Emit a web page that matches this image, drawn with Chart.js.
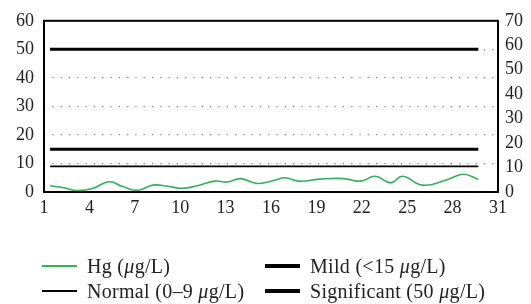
<!DOCTYPE html>
<html>
<head>
<meta charset="utf-8">
<script src="https://cdn.jsdelivr.net/npm/chart.js@4/dist/chart.umd.min.js"></script>
<style>
  html, body { margin: 0; padding: 0; background: #fff; }
  #wrap { position: relative; width: 531px; height: 304px; }
  #legend {
    position: absolute; left: 42px; top: 255px;
    display: grid; grid-template-columns: 223px 240px; row-gap: 3px;
    font-family: "Liberation Serif", "DejaVu Serif", serif; font-size: 20px; letter-spacing: 0.3px; color: #222;
  }
  #legend .item { display: flex; align-items: center; height: 22px; white-space: nowrap; }
  #legend .swatch { display: inline-block; width: 35px; margin-right: 10px; }
</style>
</head>
<body>
<div id="wrap">
  <canvas id="myChart" width="531" height="304"></canvas>
  <div id="legend"></div>
</div>
<script>
// day positions and Hg readings
var hgDays = [1.4, 2.3, 3.2, 4.2, 5.3, 6.2, 7.2, 8.2, 9.2, 10.1, 11.2, 12.3, 13.1, 14.0, 15.1,
              16.3, 16.9, 17.9, 19.2, 20.8, 21.9, 22.9, 23.9, 24.7, 26.0, 27.6, 28.7, 29.7];
var hgValues = [2.2, 1.5, 0.5, 1.2, 3.6, 1.9, 0.6, 2.4, 2.0, 1.3, 2.3, 3.8, 3.5, 4.7, 3.0,
                4.2, 5.0, 3.8, 4.5, 4.7, 3.8, 5.5, 3.2, 5.5, 2.4, 4.2, 6.2, 4.4];

// reference levels (start / end day)
var refDays = [1.4, 29.7];
var normalLevel = 9;
var mildLevel = 15;
var significantLevel = 50;

var xTicks = [1, 4, 7, 10, 13, 16, 19, 22, 25, 28, 31];
var leftTicks = [0, 10, 20, 30, 40, 50, 60];
var rightTicks = [0, 10, 20, 30, 40, 50, 60, 70];

function toPoints(xs, ys) {
    return xs.map(function (x, i) { return { x: x, y: ys[i] }; });
}
function flat(level) {
    return toPoints(refDays, refDays.map(function () { return level; }));
}

var tickFont = { family: "'Liberation Serif', 'DejaVu Serif', serif", size: 18 };

var frame = {
    id: 'frame',
    afterDatasetsDraw: function (chart) {
        var a = chart.chartArea, c = chart.ctx;
        c.save();
        c.strokeStyle = '#000';
        c.lineWidth = 2;
        c.strokeRect(a.left, a.top, a.right - a.left, a.bottom - a.top);
        c.restore();
    }
};

var ctx = document.getElementById("myChart").getContext('2d');

var chart = new Chart(ctx, {
    type: 'line',
    data: {
        datasets: [{
            label: 'Hg (<i>\u03bc</i>g/L)',
            data: toPoints(hgDays, hgValues),
            borderColor: '#33b05a',
            borderWidth: 1.6,
            tension: 0.45,
            pointRadius: 0
        }, {
            label: 'Mild (&lt;15 <i>\u03bc</i>g/L)',
            data: flat(mildLevel),
            borderColor: '#000',
            borderWidth: 3,
            pointRadius: 0
        }, {
            label: 'Normal (0\u20139 <i>\u03bc</i>g/L)',
            data: flat(normalLevel),
            borderColor: '#000',
            borderWidth: 1.8,
            pointRadius: 0
        }, {
            label: 'Significant (50 <i>\u03bc</i>g/L)',
            data: flat(significantLevel),
            borderColor: '#000',
            borderWidth: 3,
            pointRadius: 0
        }]
    },
    options: {
        responsive: false,
        animation: false,
        layout: { padding: { top: 19, bottom: 80, left: 0, right: 0 } },
        plugins: {
            legend: { display: false },
            tooltip: { enabled: false }
        },
        scales: {
            x: {
                type: 'linear',
                min: 1, max: 31,
                afterBuildTicks: function (s) { s.ticks = xTicks.map(function (v) { return { value: v }; }); },
                grid: { display: false, drawTicks: false },
                border: { display: false },
                ticks: { font: tickFont, color: '#222', padding: 5, maxRotation: 0, autoSkip: false },
                afterFit: function (s) { s.height = 32; }
            },
            y: {
                position: 'left',
                min: 0, max: 60,
                afterBuildTicks: function (s) { s.ticks = leftTicks.map(function (v) { return { value: v }; }); },
                grid: {
                    drawTicks: false,
                    color: function (c) { return (c.tick && c.tick.value > 0 && c.tick.value < 60) ? '#8a8a8a' : 'rgba(0,0,0,0)'; },
                    lineWidth: 1.3
                },
                border: { display: false, dash: [1.3, 7] },
                ticks: { font: tickFont, color: '#222', padding: 10, autoSkip: false },
                afterFit: function (s) { s.width = 44; }
            },
            y2: {
                position: 'right',
                min: 0, max: 70,
                afterBuildTicks: function (s) { s.ticks = rightTicks.map(function (v) { return { value: v }; }); },
                grid: { display: false, drawTicks: false },
                border: { display: false },
                ticks: { font: tickFont, color: '#222', padding: 7, autoSkip: false },
                afterFit: function (s) { s.width = 33; }
            }
        }
    },
    plugins: [frame]
});

// html legend laid out 2 x 2 like the figure
var legendBox = document.getElementById('legend');
chart.data.datasets.forEach(function (ds) {
    var item = document.createElement('div');
    item.className = 'item';
    var sw = document.createElement('span');
    sw.className = 'swatch';
    sw.style.height = (ds.borderWidth > 2 ? 3.5 : 2) + 'px';
    sw.style.background = ds.borderColor;
    var tx = document.createElement('span');
    tx.innerHTML = ds.label;
    item.appendChild(sw);
    item.appendChild(tx);
    legendBox.appendChild(item);
});
</script>
</body>
</html>
